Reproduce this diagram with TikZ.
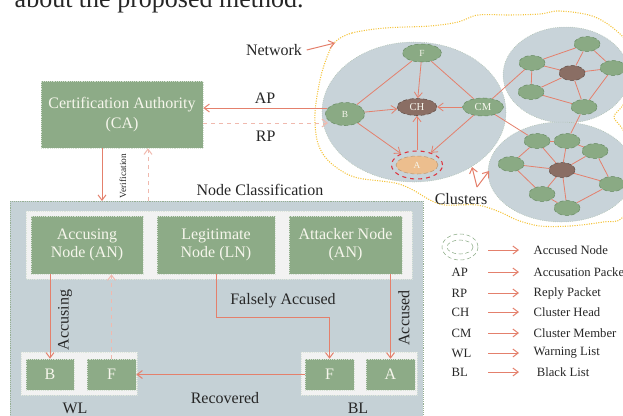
\documentclass[tikz,border=0pt]{standalone}
\usepackage{fontspec}
\setmainfont{Liberation Serif}
\usetikzlibrary{shapes.geometric, arrows.meta}

\definecolor{boxgreen}{RGB}{141,171,135}
\definecolor{boxtext}{RGB}{246,246,236}
\definecolor{nodegreen}{RGB}{138,170,132}
\definecolor{nodeline}{RGB}{105,140,100}
\definecolor{headbrown}{RGB}{138,110,100}
\definecolor{accorange}{RGB}{236,190,142}
\definecolor{clusterfill}{RGB}{200,211,217}
\definecolor{panelfill}{RGB}{197,209,214}
\definecolor{salmon}{RGB}{228,128,108}
\definecolor{netyellow}{RGB}{244,196,60}
\definecolor{ringred}{RGB}{222,52,62}

\begin{document}
\begin{tikzpicture}[> = {Straight Barb[length = 4pt, width = 6pt]}, x = 0.75pt, y = -0.75pt,
	every node/.style = {font = \fontsize{12}{14}\selectfont, text = black!85},
	box/.style = {draw = white!65!boxgreen, densely dotted, fill = boxgreen, text = boxtext, align = center, inner sep = 0pt},
	member/.style = {ellipse, draw = nodeline, densely dashed, fill = nodegreen, text = boxtext, inner sep = 0pt,
		minimum width = 26*\px, minimum height = 15*\px, font = \fontsize{7}{8}\selectfont},
	head/.style = {member, fill = headbrown, draw = headbrown!70!black},
	link/.style = {draw = salmon, line width = 0.75pt},
	replink/.style = {link, draw = salmon!55, dashed},
	edge/.style = {draw = salmon, line width = 0.6pt},
	legend/.style = {anchor = west, font = \fontsize{9.5}{11}\selectfont}]

	% Definitions

	\def\px{0.75pt}		% one pixel of the reference

	\useasboundingbox (0,0) rectangle (623,415);

	% Caption line cut by the page

	\node (caption) [anchor = base west, font = \fontsize{19.5}{24}\selectfont] at (10,7.5) {about the proposed method.};

	% Network outline

	\draw [netyellow, densely dotted, line width = 0.8pt] plot [smooth cycle, tension = 0.55] coordinates {
		(335,42) (352,33) (385,28) (430,26) (458,22) (478,15) (510,15) (540,14) (560,11) (595,17)
		(623,37) (645,70) (623,105) (614,117) (623,130) (648,175) (623,217) (603,222) (570,226)
		(540,226) (517,220) (500,212) (477,205) (445,205) (430,200) (413,190) (395,183) (358,178)
		(340,170) (325,157) (317,140) (315,113) (320,80) (327,57)};

	% Clusters

	\draw [fill = clusterfill, draw = nodeline!60, densely dotted] (414,112) ellipse [x radius = 92, y radius = 70];
	\draw [fill = clusterfill, draw = nodeline!60, densely dotted] (566,75) ellipse [x radius = 63, y radius = 48];
	\draw [fill = clusterfill, draw = nodeline!60, densely dotted] (561,172) ellipse [x radius = 73, y radius = 50];

	% Cluster with the accused node

	\node [member, minimum width = 39*\px, minimum height = 18*\px] (f) at (422,53) {F};
	\node [member, minimum width = 39*\px, minimum height = 23*\px] (b) at (345,114) {B};
	\node [head, minimum width = 40*\px, minimum height = 17*\px, font = \fontsize{8}{9}\selectfont] (ch) at (417,107) {CH};
	\node [member, minimum width = 41*\px, minimum height = 18*\px, font = \fontsize{8}{9}\selectfont] (cm) at (483,107) {CM};
	\node [member, fill = accorange, draw = accorange!80!black, minimum width = 42*\px, minimum height = 18*\px] (a) at (417,165) {A};
	\node [ellipse, draw = ringred, dashed, line width = 0.8pt, minimum width = 51*\px, minimum height = 28*\px] (aring) at (417,165) {};

	\foreach \s in {f, b, cm, aring}
		\draw [edge, ->] (\s) -- (ch);
	\draw [edge] (b) -- (f);
	\draw [edge] (f) -- (cm);
	\draw [edge, ->] (b) -- (aring);
	\draw [edge, ->] (cm) -- (aring);

	% Upper right cluster

	\node [member] (n1) at (587,44) {};
	\node [member] (n2) at (532,63) {};
	\node [head] (n3) at (572,73) {};
	\node [member] (n4) at (613,68) {};
	\node [member] (n5) at (531,92) {};
	\node [member] (n6) at (584,107) {};

	\foreach \s/\t in {n2/n1, n1/n3, n1/n4, n2/n3, n2/n5, n3/n4, n3/n5, n5/n6, n3/n6, n4/n6}
		\draw [edge] (\s) -- (\t);

	% Lower right cluster

	\node [member] (m1) at (537,141) {};
	\node [member] (m2) at (567,141) {};
	\node [member] (m3) at (595,151) {};
	\node [member] (m4) at (511,164) {};
	\node [head] (m5) at (562,170) {};
	\node [member] (m6) at (612,184) {};
	\node [member] (m7) at (542,194) {};
	\node [member] (m8) at (567,208) {};

	\foreach \s/\t in {m1/m2, m2/m3, m1/m4, m1/m5, m2/m5, m3/m5, m4/m5, m5/m6, m3/m6, m5/m7, m5/m8, m7/m8, m8/m6, m4/m7}
		\draw [edge] (\s) -- (\t);

	% Links between clusters

	\draw [edge] (cm) -- (n2);
	\draw [edge] (cm) -- (m1);
	\draw [edge] (n6) -- (m2);

	% Network and cluster labels

	\node (net) at (274,50) {Network};
	\coordinate (netedge) at (335,43);
	\draw [link, ->] (net.east) -- (netedge);

	\node (clu) at (461,199) {Clusters};
	\coordinate (clfork) at (477,187);
	\coordinate (c1edge) at (472,167);
	\coordinate (c3edge) at (489,171);
	\draw [link, ->] (clfork) -- (c1edge);
	\draw [link, ->] (clfork) -- (c3edge);

	% Certification authority

	\node [box, minimum width = 162*\px, minimum height = 67*\px, font = \fontsize{12}{15}\selectfont] (ca) at (122,114.5) {Certification Authority\\(CA)};

	\coordinate (apend) at (327,108);
	\coordinate (rpend) at (328,123);
	\draw [link, ->] (apend) -- node [above] {AP} (apend -| ca.east);
	\draw [replink, ->] (rpend -| ca.east) -- node [below, yshift = -2pt] {RP} (rpend);

	% Verification

	\coordinate (vdown) at (102,201);
	\coordinate (vup) at (148,201);
	\draw [link, ->] (vdown |- ca.south) -- (vdown);
	\draw [replink, ->] (vup) -- (vup |- ca.south);
	\node [rotate = 90, font = \fontsize{7}{8}\selectfont] (verif) at (123,176) {Verification};

	% Node classification panel

	\node (nclab) at (260,190) {Node Classification};
	\draw [fill = panelfill, draw = nodeline!70, densely dotted] (10,201) rectangle (423,425);
	\draw [fill = black!5, draw = white!70!boxgreen, densely dotted] (26,211) rectangle (412,279);

	\node [box, minimum width = 112*\px, minimum height = 58*\px, font = \fontsize{12}{13.5}\selectfont] (acc) at (87,245) {Accusing\\Node (AN)};
	\node [box, minimum width = 118*\px, minimum height = 58*\px, font = \fontsize{12}{13.5}\selectfont] (leg) at (216,245) {Legitimate\\Node (LN)};
	\node [box, minimum width = 113*\px, minimum height = 58*\px, font = \fontsize{12}{13.5}\selectfont] (att) at (345.5,245) {Attacker Node\\(AN)};

	% Warning list and black list

	\draw [fill = black!5, draw = white!70!boxgreen, densely dotted] (21,352) rectangle (137,395);
	\draw [fill = black!5, draw = white!70!boxgreen, densely dotted] (301,352) rectangle (417,395);

	\node [box, minimum width = 48*\px, minimum height = 31*\px] (wlb) at (50,374.5) {B};
	\node [box, minimum width = 49*\px, minimum height = 31*\px] (wlf) at (111.5,374.5) {F};
	\node [box, minimum width = 49*\px, minimum height = 31*\px] (blf) at (329.5,374.5) {F};
	\node [box, minimum width = 49*\px, minimum height = 31*\px] (bla) at (390.5,374.5) {A};

	\node (wl) at (75,408) {WL};
	\node (bl) at (358,408) {BL};

	% Classification arrows

	\draw [link, ->] (wlb.north |- acc.south) -- (wlb.north);
	\node [rotate = 90] (acclab1) at (65,320) {Accusing};
	\draw [replink, ->] (wlf.north) -- (wlf.north |- acc.south);

	\coordinate (fabend) at (329.5,317);
	\draw [link, ->] (leg.south) |- (fabend) -- (blf.north);
	\node (falab) at (283,301) {Falsely Accused};

	\draw [link, ->] (bla.north |- att.south) -- (bla.north);
	\node [rotate = 90] (acclab2) at (404,318) {Accused};

	\draw [link, ->] (blf.west) -- (wlf.east);
	\node (reclab) at (225,398) {Recovered};

	% Legend

	\draw [draw = nodegreen, densely dashed] (460,247) ellipse [x radius = 18, y radius = 13];
	\draw [draw = nodegreen, densely dashed] (460,247) ellipse [x radius = 13, y radius = 7];

	\foreach \n/\y/\k/\d in {1/250//Accused Node, 2/272/AP/Accusation Packet, 3/293/RP/Reply Packet,
		4/312/CH/Cluster Head, 5/333/CM/Cluster Member, 6/353/WL/Warning List, 7/372/BL/\ Black List}
	{
		\node [legend] (k\n) at (447,\y) {\k};
		\node [legend] (d\n) at (529,\y) {\d};
		\draw [link, ->] (488,0 |- d\n.west) -- (519,0 |- d\n.west);
	}

\end{tikzpicture}
\end{document}
